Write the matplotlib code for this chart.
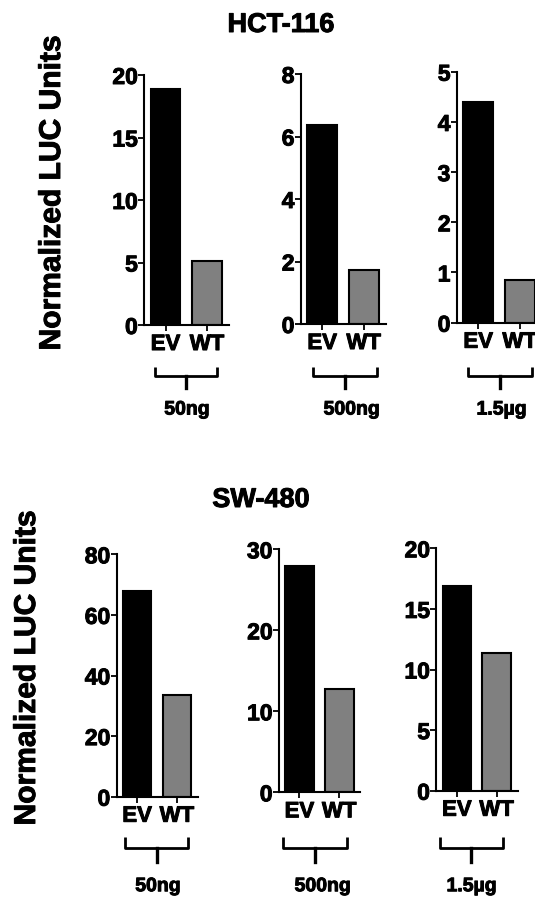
import matplotlib
matplotlib.use("Agg")
import matplotlib.pyplot as plt
import matplotlib.patheffects as pe
import numpy as np

plt.rcParams["font.family"] = ["Liberation Sans", "DejaVu Sans"]
plt.rcParams["font.weight"] = "bold"

W, H = 535, 898

groups = ["EV", "WT"]
doses = ["50ng", "500ng", "1.5\u00b5g"]

hct_ev = [18.9, 6.37, 4.40]
hct_wt = [5.12, 1.73, 0.85]
hct_ymax = [20, 8, 5]
hct_step = [5, 2, 1]

sw_ev = [68.0, 27.9, 16.9]
sw_wt = [33.6, 12.8, 11.35]
sw_ymax = [80, 30, 20]
sw_step = [20, 10, 5]

# axes boxes in pixels: (left, top, bottom)
TOP_BOXES = [(144, 75, 325), (300.7, 74, 324), (456.7, 71.7, 322.7)]
BOT_BOXES = [(116.5, 554.3, 796.7), (278.8, 549.3, 792.3), (436.2, 548.3, 790.7)]
TOP_W, BOT_W = 85, 81.5

# brace spans in pixels (x0, x1), label centres, y levels (arm top, bar, stem end, label)
TOP_BRACES = [(155, 217.3), (313, 376.7), (468, 531.7)]
BOT_BRACES = [(125, 188), (282.7, 347), (440, 502.7)]
TOP_LABEL_X = [187, 351.7, 501.7]
BOT_LABEL_X = [158, 322.7, 471.7]
TOP_Y = (367, 376, 388, 410)
BOT_Y = (836.7, 848, 861.7, 886.7)

# slight stroke so the text looks as heavy as the original
HEAVY = [pe.withStroke(linewidth=0.7, foreground="black")]


def fx(px):
    return px / W


def fy(py):
    return 1 - py / H


def draw_panel(fig, box, width, ev, wt, ymax, step):
    left, top, bottom = box
    ax = fig.add_axes([fx(left), fy(bottom), width / W, (bottom - top) / H])
    ax.bar([0, 1], [ev, wt], width=0.72, color=["black", "#808080"],
           edgecolor="black", linewidth=1.5)
    ax.set_xlim(-0.52, 1.53)
    ax.set_ylim(0, ymax)
    ax.set_yticks(np.arange(0, ymax + step, step))
    ax.set_xticks([0, 1])
    ax.set_xticklabels(groups, fontsize=16, fontweight="bold")
    ax.tick_params(axis="y", labelsize=16.5, width=1.3, length=4, pad=0.5)
    ax.tick_params(axis="x", width=1.3, length=4, pad=2.5)
    for lab in ax.get_yticklabels() + ax.get_xticklabels():
        lab.set_fontweight("bold")
        lab.set_path_effects(HEAVY)
    for s in ["top", "right"]:
        ax.spines[s].set_visible(False)
    for s in ["left", "bottom"]:
        ax.spines[s].set_linewidth(1.5)
    ax.patch.set_alpha(0)
    return ax


def draw_brace(fig, x0, x1, levels, label, label_x):
    y_top, y_bar, y_stem, y_lab = levels
    xc = 0.5 * (x0 + x1)
    fig.add_artist(plt.Line2D([fx(x0), fx(x0), fx(x1), fx(x1)],
                              [fy(y_top), fy(y_bar), fy(y_bar), fy(y_top)],
                              color="black", lw=2.0, solid_joinstyle="round",
                              solid_capstyle="butt"))
    fig.add_artist(plt.Line2D([fx(xc), fx(xc)], [fy(y_bar), fy(y_stem)],
                              color="black", lw=2.4))
    fig.text(fx(label_x), fy(y_lab), label, ha="center", va="center",
             fontsize=14, fontweight="bold", path_effects=HEAVY)


fig = plt.figure(figsize=(W / 100, H / 100), dpi=100)

for i in range(3):
    draw_panel(fig, TOP_BOXES[i], TOP_W, hct_ev[i], hct_wt[i], hct_ymax[i], hct_step[i])
    draw_brace(fig, *TOP_BRACES[i], TOP_Y, doses[i], TOP_LABEL_X[i])
    draw_panel(fig, BOT_BOXES[i], BOT_W, sw_ev[i], sw_wt[i], sw_ymax[i], sw_step[i])
    draw_brace(fig, *BOT_BRACES[i], BOT_Y, doses[i], BOT_LABEL_X[i])

fig.text(fx(281), fy(25), "HCT-116", ha="center", va="center", fontsize=19.5,
         fontweight="bold", path_effects=HEAVY)
fig.text(fx(261), fy(500), "SW-480", ha="center", va="center", fontsize=19.5,
         fontweight="bold", path_effects=HEAVY)

fig.text(fx(52), fy(193), "Normalized LUC Units", rotation=90, ha="center", va="center",
         fontsize=21.6, fontweight="bold", path_effects=HEAVY)
fig.text(fx(27), fy(668), "Normalized LUC Units", rotation=90, ha="center", va="center",
         fontsize=21.6, fontweight="bold", path_effects=HEAVY)

fig.savefig("out.png", dpi=100)
